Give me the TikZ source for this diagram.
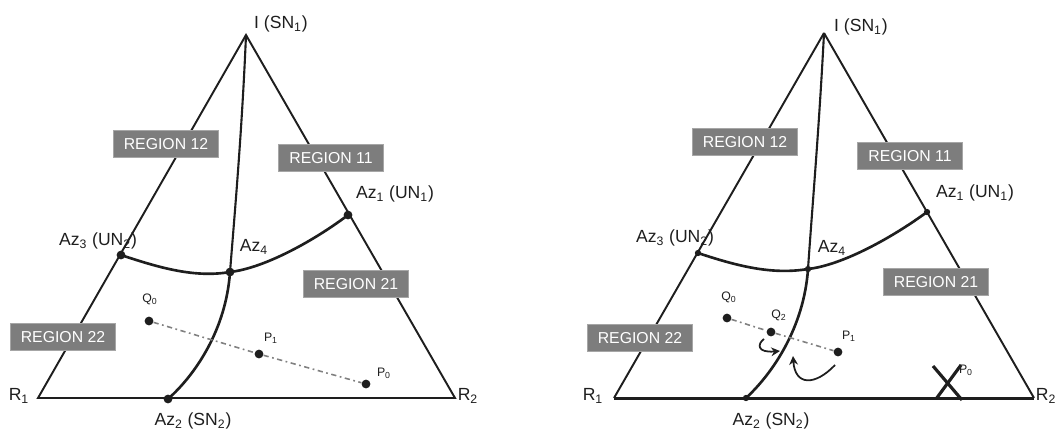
\documentclass[tikz,border=0pt]{standalone}
\usepackage{fontspec}
\setmainfont{Liberation Sans}
\usepackage{xcolor}
\usepackage{tikz}
\usetikzlibrary{arrows.meta,calc}

\definecolor{boxgray}{RGB}{125,125,125}
\definecolor{inkgray}{RGB}{30,30,30}

\tikzset{
  edge/.style={line width=1.1pt, draw=inkgray, line join=miter},
  curve/.style={line width=1.5pt, draw=inkgray},
  trace/.style={line width=0.9pt, draw=gray, dash pattern=on 3pt off 2pt on 1pt off 2pt},
  dot/.style={circle, fill=inkgray, inner sep=0pt, minimum size=5pt},
  sdot/.style={circle, fill=inkgray, inner sep=0pt, minimum size=3.6pt},
  region/.style={fill=boxgray, draw=gray!70, text=white, inner sep=0pt,
                 minimum width=2.1cm, minimum height=0.54cm, font=\fontsize{9}{10}\selectfont},
  lbl/.style={inner sep=0pt, text=inkgray, font=\fontsize{10}{12}\selectfont},
  tiny/.style={inner sep=0pt, text=inkgray, font=\fontsize{7}{8}\selectfont},
  arr/.style={line width=1pt, draw=inkgray, -{Stealth[length=5pt, width=5pt]}},
  cross/.style={line width=1.8pt, draw=inkgray}
}

\begin{document}
\begin{tikzpicture}[x=0.02cm, y=-0.02cm]
        \useasboundingbox (0,0) rectangle (1057,430);

        % left diagram
        \coordinate (lI)  at (246,35);
        \coordinate (lR1) at (38,398);
        \coordinate (lR2) at (455,398);
        \draw [edge] (lI) -- (lR1) -- (lR2) -- cycle;                   %
        \node [dot] (laz1) at (348,215) {};                              %UN1
        \node [dot] (laz3) at (121,255) {};                              %UN2
        \node [dot] (laz4) at (230,272) {};                              %
        \node [dot] (laz2) at (168,399) {};                              %SN2
        \draw [curve, line width=1.2pt] (lI) .. controls (242,130) and (235,210) .. (laz4.center);
        \draw [curve] (laz4.center) .. controls (226,330) and (195,375) .. (laz2.center);
        \draw [curve] (laz3.center) .. controls (160,268) and (195,278) .. (laz4.center);
        \draw [curve] (laz4.center) .. controls (265,268) and (315,240) .. (laz1.center);
        \node [dot] (lq0) at (149,321) {};                               %
        \node [dot] (lp1) at (259,354) {};                               %
        \node [dot] (lp0) at (366,384) {};                               %
        \draw [trace] (lq0) -- (lp1) -- (lp0);                           %
        \node [region] (lreg12) at (166,144) {REGION 12};                %
        \node [region] (lreg11) at (331,158) {REGION 11};                %
        \node [region] (lreg21) at (356,284) {REGION 21};                %
        \node [region] (lreg22) at (63,337)  {REGION 22};                %
        \node [lbl] (ltI)   at (281,24)  {I (SN\textsubscript{1})};      %
        \node [lbl] (ltaz1) at (395,194) {Az\textsubscript{1} (UN\textsubscript{1})};
        \node [lbl] (ltaz3) at (98,241)  {Az\textsubscript{3} (UN\textsubscript{2})};
        \node [lbl] (ltaz4) at (254,247) {Az\textsubscript{4}};          %
        \node [lbl] (ltaz2) at (193,421) {Az\textsubscript{2} (SN\textsubscript{2})};
        \node [lbl] (ltR1)  at (19,396)  {R\textsubscript{1}};           %
        \node [lbl] (ltR2)  at (468,396) {R\textsubscript{2}};           %
        \node [tiny] (ltq0) at (150,299) {Q\textsubscript{0}};           %
        \node [tiny] (ltp1) at (271,338) {P\textsubscript{1}};           %
        \node [tiny] (ltp0) at (384,373) {P\textsubscript{0}};           %

        % right diagram
        \coordinate (rI)  at (824,33);
        \coordinate (rR1) at (614,398);
        \coordinate (rR2) at (1034,398);
        \draw [edge] (rI) -- (rR1);                                      %
        \draw [edge] (rR2) -- (rI);                                      %
        \draw [edge, line width=1.7pt] (rR1) -- (rR2);                   %base
        \node [sdot] (raz1) at (927,212) {};                             %UN1
        \node [sdot] (raz3) at (698,253) {};                             %UN2
        \node [sdot] (raz4) at (808,269) {};                             %
        \node [sdot] (raz2) at (746,398) {};                             %SN2
        \draw [curve, line width=1.2pt] (rI) .. controls (819,130) and (812,210) .. (raz4.center);
        \draw [curve] (raz4.center) .. controls (804,327) and (773,373) .. (raz2.center);
        \draw [curve] (raz3.center) .. controls (737,266) and (772,275) .. (raz4.center);
        \draw [curve] (raz4.center) .. controls (843,265) and (893,237) .. (raz1.center);
        \node [dot] (rq0) at (727,318) {};                               %
        \node [dot] (rq2) at (771,332) {};                               %
        \node [dot] (rp1) at (838,352) {};                               %
        \draw [trace] (rq0) -- (rq2) -- (rp1);                           %
        \coordinate (rp0) at (947,383);
        \draw [cross] ($(rp0)+(-14,-17)$) -- ($(rp0)+(15,17)$);          %
        \draw [cross] ($(rp0)+(-11,16)$)  -- ($(rp0)+(14,-18)$);         %
        \coordinate (rh1) at (764,339);
        \coordinate (rh2) at (780,351);
        \draw [arr] (rh1) .. controls (757,344) and (757,353) .. (rh2);  %
        \coordinate (rb1) at (835,365);
        \coordinate (rb2) at (793,356);
        \draw [arr] (rb1) .. controls (815,386) and (795,386) .. (rb2);  %
        \node [region] (rreg12) at (745,142) {REGION 12};                %
        \node [region] (rreg11) at (910,156) {REGION 11};                %
        \node [region] (rreg21) at (936,282) {REGION 21};                %
        \node [region] (rreg22) at (640,338) {REGION 22};                %
        \node [lbl] (rtI)   at (861,27)  {I (SN\textsubscript{1})};      %
        \node [lbl] (rtaz1) at (975,193) {Az\textsubscript{1} (UN\textsubscript{1})};
        \node [lbl] (rtaz3) at (675,238) {Az\textsubscript{3} (UN\textsubscript{2})};
        \node [lbl] (rtaz4) at (832,248) {Az\textsubscript{4}};          %
        \node [lbl] (rtaz2) at (771,421) {Az\textsubscript{2} (SN\textsubscript{2})};
        \node [lbl] (rtR1)  at (593,396) {R\textsubscript{1}};           %
        \node [lbl] (rtR2)  at (1046,396) {R\textsubscript{2}};          %
        \node [tiny] (rtq0) at (729,297) {Q\textsubscript{0}};           %
        \node [tiny] (rtq2) at (779,315) {Q\textsubscript{2}};           %
        \node [tiny] (rtp1) at (849,336) {P\textsubscript{1}};           %
        \node [tiny] (rtp0) at (966,370) {P\textsubscript{0}};           %
      \end{tikzpicture}
\end{document}
